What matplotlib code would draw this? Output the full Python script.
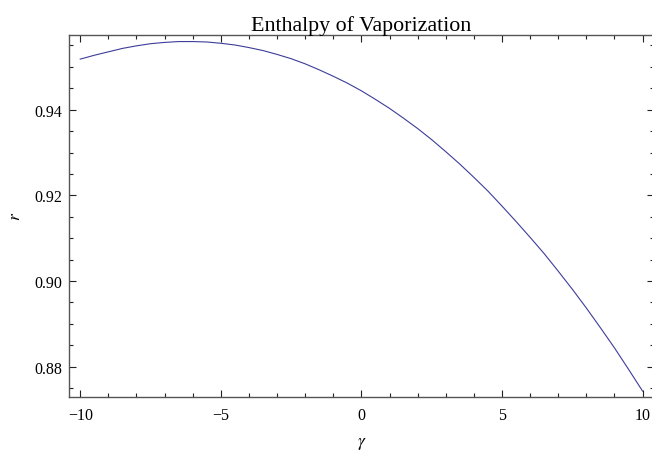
import numpy as np
import matplotlib
matplotlib.use("Agg")
import matplotlib.pyplot as plt
from matplotlib.ticker import MultipleLocator

# values (half-unit steps)
gamma = [-10, -9.5, -9, -8.5, -8, -7.5, -7, -6.5, -6, -5.5, -5, -4.5,
         -4, -3.5, -3, -2.5, -2, -1.5, -1, -0.5, 0, 0.5, 1, 1.5, 2, 2.5,
         3, 3.5, 4, 4.5, 5, 5.5, 6, 6.5, 7, 7.5, 8, 8.5, 9, 9.5, 10]
r_vals = [0.9518, 0.9527, 0.9535, 0.9543, 0.9549, 0.9554, 0.9557, 0.9559,
          0.9559, 0.9558, 0.9555, 0.9551, 0.9545, 0.9538, 0.9529, 0.9519,
          0.9507, 0.9493, 0.9478, 0.9462, 0.9444, 0.9424, 0.9403, 0.9380,
          0.9356, 0.9330, 0.9302, 0.9273, 0.9242, 0.9210, 0.9175, 0.9139,
          0.9102, 0.9064, 0.9023, 0.8981, 0.8937, 0.8891, 0.8844, 0.8794,
          0.8743]

title = "Enthalpy of Vaporization"
xlab = r"$\gamma$"
ylab = r"$r$"

plt.rcParams['font.family'] = ['Liberation Serif', 'DejaVu Serif']
plt.rcParams['mathtext.fontset'] = 'stix'

fig = plt.figure(figsize=(6.52, 4.52), dpi=100)
ax = fig.add_axes([0.1058, 0.1195, 0.897, 0.8015])

ax.plot(gamma, r_vals, color='#3d3d99', lw=0.8)

ax.set_xlim(-10.4, 10.4)
ax.set_ylim(0.87293, 0.9575)

ax.xaxis.set_major_locator(MultipleLocator(5))
ax.xaxis.set_minor_locator(MultipleLocator(1))
ax.yaxis.set_major_locator(MultipleLocator(0.02))
ax.yaxis.set_minor_locator(MultipleLocator(0.005))
ax.yaxis.set_major_formatter(plt.FuncFormatter(lambda v, p: f"{v:.2f}"))
ax.xaxis.set_major_formatter(plt.FuncFormatter(
    lambda v, p: f"{int(round(v))}".replace('-', '\u2212')))

ax.tick_params(which='both', direction='in', top=True, right=True,
               color='#222222', width=0.8, labelsize=11.5, labelcolor='black')
ax.tick_params(which='major', length=5)
ax.tick_params(which='minor', length=2.8)
ax.tick_params(axis='y', pad=5)
ax.tick_params(axis='x', pad=7)

for s in ax.spines.values():
    s.set_color('#555555')
    s.set_linewidth(1.0)

ax.set_title(title, fontsize=15.8, pad=1)
ax.set_xlabel(xlab, fontsize=12.5, labelpad=9)
ax.set_ylabel(ylab, fontsize=12.5, labelpad=7)

fig.savefig("out.png", dpi=100)
